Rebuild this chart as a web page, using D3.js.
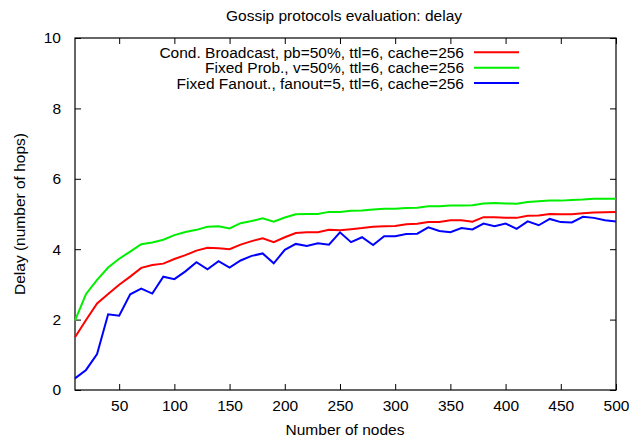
<!DOCTYPE html>
<html>
<head>
<meta charset="utf-8">
<script src="https://cdn.jsdelivr.net/npm/d3@7"></script>
<style>
  body { margin: 0; background: #fff; }
  svg { display: block; font-family: "Liberation Sans", Arial, sans-serif; }
</style>
</head>
<body>
<svg id="chart" width="642" height="439"></svg>
<script>
// number of nodes, every 10 from 10 to 500
const nodes = [10, 20, 30, 40, 50, 60, 70, 80, 90, 100,
  110, 120, 130, 140, 150, 160, 170, 180, 190, 200,
  210, 220, 230, 240, 250, 260, 270, 280, 290, 300,
  310, 320, 330, 340, 350, 360, 370, 380, 390, 400,
  410, 420, 430, 440, 450, 460, 470, 480, 490, 500];

const condBroadcast = [1.50, 1.99, 2.46, 2.73, 2.99, 3.22, 3.47, 3.55, 3.59, 3.72,
  3.83, 3.96, 4.04, 4.03, 4.00, 4.13, 4.23, 4.31, 4.20, 4.34,
  4.46, 4.48, 4.48, 4.55, 4.54, 4.57, 4.60, 4.64, 4.65, 4.66,
  4.71, 4.72, 4.77, 4.77, 4.82, 4.82, 4.78, 4.91, 4.91, 4.89,
  4.89, 4.95, 4.96, 5.00, 4.99, 4.99, 5.02, 5.04, 5.05, 5.06];

const fixedProb = [1.97, 2.73, 3.13, 3.48, 3.73, 3.93, 4.14, 4.19, 4.27, 4.40,
  4.49, 4.55, 4.64, 4.65, 4.59, 4.74, 4.80, 4.88, 4.78, 4.90,
  4.99, 5.00, 5.00, 5.06, 5.06, 5.09, 5.10, 5.13, 5.15, 5.15,
  5.17, 5.18, 5.22, 5.22, 5.24, 5.24, 5.25, 5.30, 5.31, 5.30,
  5.29, 5.34, 5.36, 5.38, 5.38, 5.40, 5.41, 5.43, 5.43, 5.43];

const fixedFanout = [0.33, 0.57, 1.02, 2.15, 2.11, 2.72, 2.88, 2.74, 3.22, 3.15,
  3.37, 3.63, 3.43, 3.66, 3.48, 3.68, 3.81, 3.88, 3.60, 3.98,
  4.15, 4.09, 4.17, 4.13, 4.48, 4.20, 4.34, 4.12, 4.37, 4.37,
  4.43, 4.44, 4.62, 4.52, 4.48, 4.60, 4.56, 4.73, 4.65, 4.73,
  4.58, 4.79, 4.68, 4.86, 4.77, 4.76, 4.92, 4.89, 4.82, 4.79];

const seriesNames = [
  "Cond. Broadcast, pb=50%, ttl=6, cache=256",
  "Fixed Prob., v=50%, ttl=6, cache=256",
  "Fixed Fanout., fanout=5, ttl=6, cache=256"
];
const seriesColors = ["#ff0000", "#00ee00", "#0000ff"];
const seriesValues = [condBroadcast, fixedProb, fixedFanout];

const xTicks = [50, 100, 150, 200, 250, 300, 350, 400, 450, 500];
const yTicks = [0, 2, 4, 6, 8, 10];

const fontSize = "15.5px";

const svg = d3.select("#chart");
const margin = { top: 38, right: 26, bottom: 49, left: 75 };
const width = 642 - margin.left - margin.right;
const height = 439 - margin.top - margin.bottom;

const x = d3.scaleLinear().domain([10, 500]).range([margin.left, margin.left + width]);
const y = d3.scaleLinear().domain([0, 10]).range([margin.top + height, margin.top]);

// ticks on all four sides, pointing inward (gnuplot style)
const tickLen = 6;
function styleAxis(g) {
  g.select(".domain").remove();
  g.selectAll(".tick line").attr("stroke", "#000").attr("stroke-width", 1);
  g.selectAll(".tick text").attr("fill", "#000").style("font-size", fontSize);
}

svg.append("g")
  .attr("transform", `translate(0,${margin.top + height})`)
  .call(d3.axisBottom(x).tickValues(xTicks).tickSizeInner(-tickLen).tickSizeOuter(0).tickPadding(10))
  .call(styleAxis);

svg.append("g")
  .attr("transform", `translate(0,${margin.top})`)
  .call(d3.axisTop(x).tickValues(xTicks).tickSizeInner(-tickLen).tickSizeOuter(0).tickFormat(""))
  .call(styleAxis);

svg.append("g")
  .attr("transform", `translate(${margin.left},0)`)
  .call(d3.axisLeft(y).tickValues(yTicks).tickSizeInner(-tickLen).tickSizeOuter(0).tickPadding(14))
  .call(styleAxis);

svg.append("g")
  .attr("transform", `translate(${margin.left + width},0)`)
  .call(d3.axisRight(y).tickValues(yTicks).tickSizeInner(-tickLen).tickSizeOuter(0).tickFormat(""))
  .call(styleAxis);

// border
svg.append("rect")
  .attr("x", margin.left)
  .attr("y", margin.top)
  .attr("width", width)
  .attr("height", height)
  .attr("fill", "none")
  .attr("stroke", "#000")
  .attr("stroke-width", 1.2);

// lines
const line = d3.line()
  .x((d, i) => x(nodes[i]))
  .y(d => y(d));

svg.selectAll(".series")
  .data(seriesValues)
  .enter().append("path")
  .attr("class", "series")
  .attr("d", line)
  .attr("fill", "none")
  .attr("stroke", (d, i) => seriesColors[i])
  .attr("stroke-width", 2)
  .attr("stroke-linejoin", "miter");

// legend
const legend = svg.selectAll(".legend")
  .data(seriesNames)
  .enter().append("g")
  .attr("class", "legend")
  .attr("transform", (d, i) => `translate(0,${52.3 + i * 15.4})`);

legend.append("text")
  .attr("x", 464)
  .attr("dy", "0.35em")
  .attr("text-anchor", "end")
  .style("font-size", fontSize)
  .text(d => d);

legend.append("line")
  .attr("x1", 474)
  .attr("x2", 519)
  .attr("stroke", (d, i) => seriesColors[i])
  .attr("stroke-width", 2);

// title and axis labels
svg.append("text")
  .attr("x", 344)
  .attr("y", 21)
  .attr("text-anchor", "middle")
  .style("font-size", fontSize)
  .text("Gossip protocols evaluation: delay");

svg.append("text")
  .attr("x", 345)
  .attr("y", 435)
  .attr("text-anchor", "middle")
  .style("font-size", fontSize)
  .text("Number of nodes");

svg.append("text")
  .attr("transform", "translate(25,214) rotate(-90)")
  .attr("text-anchor", "middle")
  .style("font-size", fontSize)
  .text("Delay (number of hops)");
</script>
</body>
</html>
